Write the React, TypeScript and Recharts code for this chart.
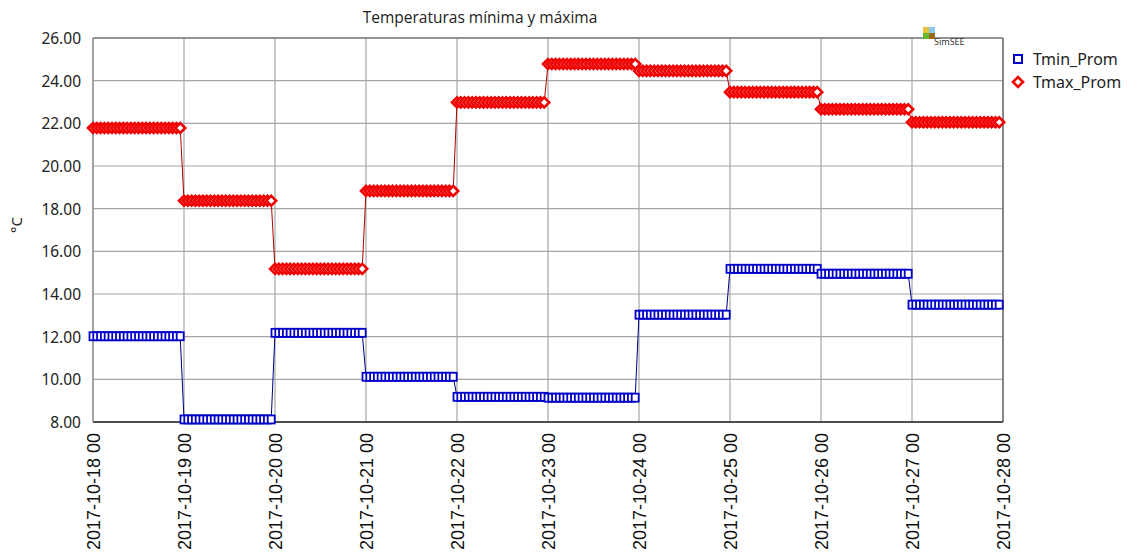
import { CartesianGrid, Line, LineChart, ReferenceLine, XAxis, YAxis } from "recharts";

const dayLabels = [
  "2017-10-18 00",
  "2017-10-19 00",
  "2017-10-20 00",
  "2017-10-21 00",
  "2017-10-22 00",
  "2017-10-23 00",
  "2017-10-24 00",
  "2017-10-25 00",
  "2017-10-26 00",
  "2017-10-27 00",
  "2017-10-28 00",
];

// daily averages, held constant for each of the 24 hours of the day
const tminDaily = [12.02, 8.12, 12.18, 10.12, 9.18, 9.14, 13.03, 15.18, 14.95, 13.5];
const tmaxDaily = [21.78, 18.37, 15.18, 18.83, 22.98, 24.78, 24.46, 23.46, 22.66, 22.05];

const yTicks = [8, 10, 12, 14, 16, 18, 20, 22, 24, 26];
const xTicks = dayLabels.map((_, i) => i * 24);

const HOURS = 24;

const data = tminDaily.flatMap((tmin, d) =>
  Array.from({ length: HOURS }, (_, h) => ({
    hour: d * HOURS + h,
    tmin,
    tmax: tmaxDaily[d],
  })),
);

const BLUE = "#0000c8";
const RED = "#f00000";

function SquareDot(props: any) {
  const { cx, cy, index } = props;
  if (cx == null || cy == null) return null;
  return (
    <rect key={`s${index}`} x={cx - 3.5} y={cy - 4} width={7} height={8} fill="#fff" stroke={BLUE} strokeWidth={1.8} />
  );
}

function DiamondDot(props: any) {
  const { cx, cy, index } = props;
  if (cx == null || cy == null) return null;
  const r = 5;
  return (
    <path
      key={`d${index}`}
      d={`M${cx - r},${cy} L${cx},${cy - r} L${cx + r},${cy} L${cx},${cy + r} Z`}
      fill="#fff"
      stroke={RED}
      strokeWidth={2.6}
    />
  );
}

function XTick(props: any) {
  const { x, y, payload } = props;
  return (
    <g transform={`translate(${x + 6.5},${y + 3}) rotate(-90)`}>
      <text x={0} y={0} textAnchor="end" fontFamily="'Liberation Sans', Arial, sans-serif" fontSize={18} fill="#111">
        {dayLabels[payload.value / HOURS]}
      </text>
    </g>
  );
}

function YTick(props: any) {
  const { x, y, payload } = props;
  return (
    <text x={x} y={y} dy={6} textAnchor="end" fontFamily="'Noto Sans', sans-serif" fontSize={15.5} fill="#222">
      {Number(payload.value).toFixed(2)}
    </text>
  );
}

export default function App() {
  return (
    <div style={{ position: "relative", width: 1132, height: 554, background: "#fff" }}>
      <style>{`body{margin:0}`}</style>
      <LineChart width={1132} height={554} data={data} margin={{ top: 38, right: 129, bottom: 0, left: 0 }}>
        <CartesianGrid stroke="#a6a6a6" strokeWidth={1.2} />
        <XAxis
          dataKey="hour"
          type="number"
          domain={[0, 240]}
          ticks={xTicks}
          interval={0}
          height={132}
          tickLine={false}
          axisLine={{ stroke: "#222", strokeWidth: 1.5 }}
          tick={<XTick />}
        />
        <YAxis
          type="number"
          domain={[8, 26]}
          ticks={yTicks}
          interval={0}
          width={93}
          tickLine={false}
          tickMargin={6}
          tickSize={6}
          axisLine={{ stroke: "#888", strokeWidth: 1.2 }}
          tick={<YTick />}
        />
        <ReferenceLine y={26} stroke="#808080" strokeWidth={1.5} />
        <ReferenceLine x={240} stroke="#707070" strokeWidth={1.5} />
        <Line
          dataKey="tmin"
          type="linear"
          stroke="#000088"
          strokeWidth={1}
          dot={<SquareDot />}
          activeDot={false}
          isAnimationActive={false}
        />
        <Line
          dataKey="tmax"
          type="linear"
          stroke="#b00000"
          strokeWidth={1}
          dot={<DiamondDot />}
          activeDot={false}
          isAnimationActive={false}
        />
      </LineChart>
      <svg width={1132} height={554} style={{ position: "absolute", left: 0, top: 0, pointerEvents: "none" }}>
        <text x={480} y={23} textAnchor="middle" fontFamily="'Open Sans', sans-serif" fontSize={15.5} fill="#222">
          Temperaturas mínima y máxima
        </text>
        <text
          transform="translate(22,225) rotate(-90)"
          textAnchor="middle"
          fontFamily="'Noto Sans', sans-serif"
          fontSize={15}
          fill="#222"
        >
          °C
        </text>
        <rect x={923} y={27} width={6} height={6} fill="#e8c23a" />
        <rect x={929} y={27} width={6} height={6} fill="#8cc8f0" />
        <rect x={923} y={33} width={6} height={6} fill="#6cb82c" />
        <rect x={929} y={33} width={6} height={6} fill="#9a6a1c" />
        <text x={934} y={45} fontFamily="'Noto Sans', sans-serif" fontSize={9} fill="#333">
          SimSEE
        </text>
        <rect x={1014} y={55} width={8} height={8} fill="#fff" stroke={BLUE} strokeWidth={2} />
        <text x={1033} y={65} fontFamily="'Noto Sans', sans-serif" fontSize={16} fill="#222">
          Tmin_Prom
        </text>
        <path d="M1013,82 L1018,77 L1023,82 L1018,87 Z" fill="#fff" stroke={RED} strokeWidth={2.6} />
        <text x={1033} y={88} fontFamily="'Noto Sans', sans-serif" fontSize={16} fill="#222">
          Tmax_Prom
        </text>
      </svg>
    </div>
  );
}
